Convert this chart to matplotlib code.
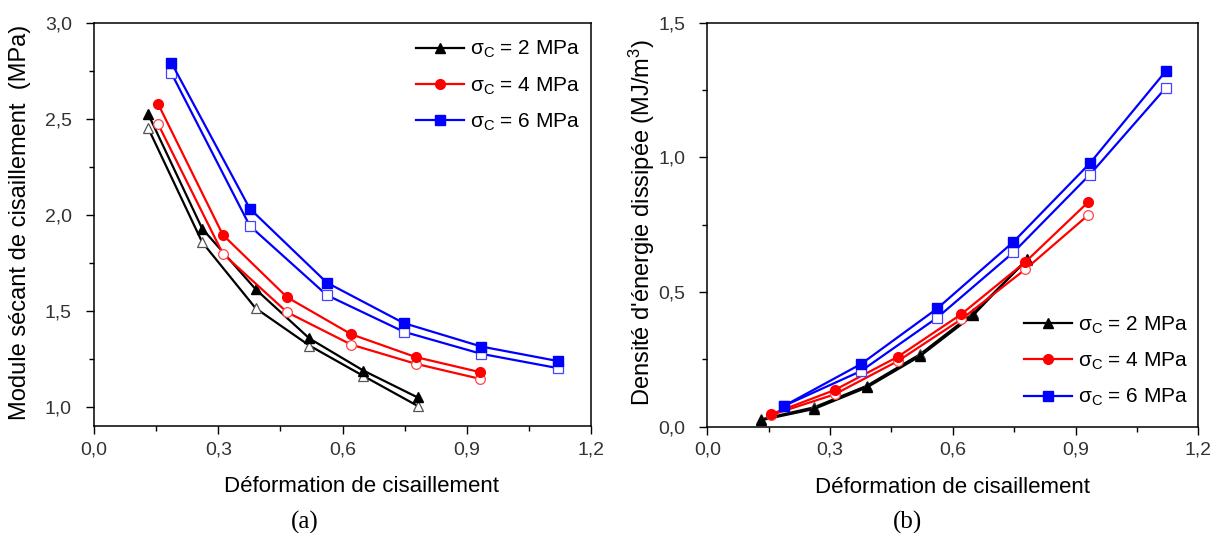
import matplotlib
matplotlib.use("Agg")
import matplotlib.pyplot as plt
from matplotlib.ticker import MultipleLocator, FuncFormatter

plt.rcParams['font.family'] = ['Liberation Sans', 'DejaVu Sans']
plt.rcParams['mathtext.default'] = 'regular'

# Data - (a) secant shear modulus (MPa)
strain_2 = [0.131, 0.261, 0.390, 0.520, 0.650, 0.781]
strain_4 = [0.155, 0.311, 0.466, 0.621, 0.777, 0.931]
strain_6 = [0.187, 0.376, 0.562, 0.748, 0.935, 1.121]

mod_2_fill = [2.524, 1.929, 1.613, 1.356, 1.189, 1.049]
mod_2_open = [2.451, 1.858, 1.514, 1.319, 1.161, 1.005]
mod_4_fill = [2.577, 1.896, 1.571, 1.378, 1.259, 1.181]
mod_4_open = [2.472, 1.798, 1.493, 1.324, 1.224, 1.146]
mod_6_fill = [2.792, 2.033, 1.647, 1.436, 1.314, 1.238]
mod_6_open = [2.738, 1.943, 1.582, 1.391, 1.276, 1.201]

# Data - (b) dissipated energy density (MJ/m3)
en_2_fill = [0.024, 0.066, 0.146, 0.262, 0.414, 0.622]
en_2_open = [0.027, 0.072, 0.152, 0.269, 0.421, 0.619]
en_4_fill = [0.046, 0.136, 0.260, 0.418, 0.611, 0.834]
en_4_open = [0.043, 0.120, 0.244, 0.399, 0.584, 0.786]
en_6_fill = [0.077, 0.233, 0.439, 0.686, 0.978, 1.321]
en_6_open = [0.077, 0.207, 0.405, 0.647, 0.936, 1.259]

labels = [r"σ$_C$ = 2 MPa", r"σ$_C$ = 4 MPa", r"σ$_C$ = 6 MPa"]
colors = ["black", "red", "blue"]
markers = ["^", "o", "s"]
open_edge = ["#555555", "#ff4444", "#4444ff"]

comma = FuncFormatter(lambda v, p: ("%.1f" % v).replace(".", ","))

fig = plt.figure(figsize=(12.26, 5.33), dpi=100)
ax1 = fig.add_axes([0.0767, 0.2008, 0.4054, 0.756])
ax2 = fig.add_axes([0.5769, 0.1994, 0.4005, 0.758])

strains = [strain_2, strain_4, strain_6]
fills_a = [mod_2_fill, mod_4_fill, mod_6_fill]
opens_a = [mod_2_open, mod_4_open, mod_6_open]
fills_b = [en_2_fill, en_4_fill, en_6_fill]
opens_b = [en_2_open, en_4_open, en_6_open]

# legend anchors (upper-left corner, axes coords)
leg_pos = {ax1: (0.648, 0.96), ax2: (0.645, 0.278)}

for ax, fills, opens in [(ax1, fills_a, opens_a), (ax2, fills_b, opens_b)]:
    for i in range(3):
        ms = 7.5 if markers[i] == "^" else 7
        ax.plot(strains[i], opens[i], color=colors[i], marker=markers[i], linewidth=1.6,
                markersize=ms, markerfacecolor="white",
                markeredgecolor=open_edge[i], markeredgewidth=0.9)
        ax.plot(strains[i], fills[i], color=colors[i], marker=markers[i], linewidth=1.6,
                markersize=ms, label=labels[i])

    ax.set_xlim(0, 1.2)
    ax.xaxis.set_major_locator(MultipleLocator(0.3))
    ax.xaxis.set_minor_locator(MultipleLocator(0.15))
    ax.yaxis.set_major_locator(MultipleLocator(0.5))
    ax.yaxis.set_minor_locator(MultipleLocator(0.25))
    ax.xaxis.set_major_formatter(comma)
    ax.yaxis.set_major_formatter(comma)
    ax.tick_params(which='major', direction='out', length=6, width=1, labelsize=14,
                   labelcolor='#333333')
    ax.tick_params(axis='x', which='major', pad=5)
    ax.tick_params(axis='y', which='major', pad=10)
    ax.tick_params(which='minor', direction='out', length=3.5, width=1)
    for s in ax.spines.values():
        s.set_linewidth(1.1)
    ax.legend(fontsize=15, frameon=False, handlelength=2.3, handletextpad=0.3,
              labelspacing=0.72, borderaxespad=0, borderpad=0,
              loc='upper left', bbox_to_anchor=leg_pos[ax])
    ax.set_xlabel("Déformation de cisaillement", fontsize=16)
    ax.xaxis.label.set_va('center')

ax1.set_ylim(0.9, 3.0)
ax2.set_ylim(0, 1.5)

ax1.set_ylabel("Module sécant de cisaillement  (MPa)", fontsize=17)
ax2.set_ylabel(r"Densité d'énergie dissipée (MJ/m$^3$)", fontsize=17)
ax1.yaxis.label.set_va('center')
ax2.yaxis.label.set_va('center')
ax1.yaxis.set_label_coords(-0.149, 0.505)
ax2.yaxis.set_label_coords(-0.134, 0.505)
ax1.xaxis.set_label_coords(0.539, -0.151)
ax2.xaxis.set_label_coords(0.5, -0.151)

fig.text(305 / 1226, 1 - 522 / 533, "(a)", fontsize=18, family='Liberation Serif',
         ha='center', va='center')
fig.text(907 / 1226, 1 - 522 / 533, "(b)", fontsize=18, family='Liberation Serif',
         ha='center', va='center')

plt.savefig("out.png", dpi=100)
